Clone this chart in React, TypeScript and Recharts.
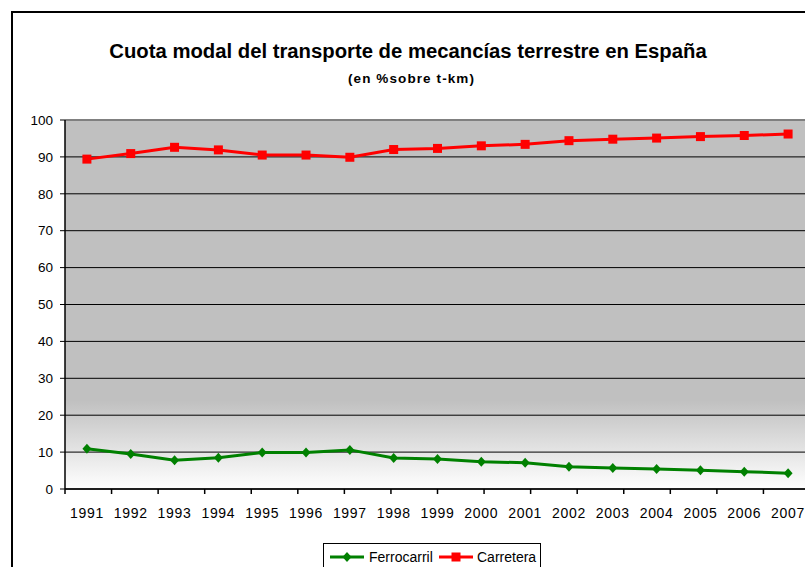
import { CartesianGrid, Line, LineChart, ReferenceLine, XAxis, YAxis } from "recharts";

const years = [
    "1991", "1992", "1993", "1994", "1995", "1996", "1997", "1998", "1999",
    "2000", "2001", "2002", "2003", "2004", "2005", "2006", "2007",
];
const ferrocarril = [10.9, 9.5, 7.8, 8.5, 9.9, 9.9, 10.6, 8.4, 8.1, 7.4, 7.1, 6.0, 5.7, 5.4, 5.1, 4.7, 4.3];
const carretera = [89.4, 90.9, 92.6, 91.9, 90.5, 90.5, 89.9, 92.0, 92.3, 93.0, 93.4, 94.4, 94.8, 95.1, 95.5, 95.8, 96.2];
const yTicks = [0, 10, 20, 30, 40, 50, 60, 70, 80, 90, 100];
const bandEdges = years.map((_, i) => i).concat(years.length);

const data = years.map((year, i) => ({
    year,
    ferrocarril: ferrocarril[i],
    carretera: carretera[i],
}));

const FONT = "Arial, 'Liberation Sans', sans-serif";
const GREEN = "#008000";
const RED = "#ff0000";

const Diamond = ({ cx, cy }: any) => {
    if (cx == null || cy == null) return null;
    return <polygon points={`${cx},${cy - 5} ${cx + 4.5},${cy} ${cx},${cy + 5} ${cx - 4.5},${cy}`} fill={GREEN} />;
};

const Square = ({ cx, cy }: any) => {
    if (cx == null || cy == null) return null;
    return <rect x={cx - 4.5} y={cy - 4.5} width={9} height={9} fill={RED} />;
};

const App = () => {
    return (
        <div style={{ position: "fixed", left: 0, top: 0, width: 805, height: 567, overflow: "hidden", background: "#fff", fontFamily: FONT }}>
            {/* outer chart frame */}
            <div style={{ position: "absolute", left: 11, top: 11, width: 830, height: 600, border: "2px solid #000", boxSizing: "border-box" }} />

            <div style={{ position: "absolute", left: 0, top: 39, width: 816, textAlign: "center", fontSize: 20.3, fontWeight: "bold", lineHeight: "24px", color: "#000" }}>
                Cuota modal del transporte de mecancías terrestre en España
            </div>
            <div style={{ position: "absolute", left: 0, top: 70, width: 823, textAlign: "center", fontSize: 13.5, fontWeight: "bold", lineHeight: "18px", letterSpacing: 1.1, color: "#000" }}>
                (en %sobre t-km)
            </div>

            <div style={{ position: "absolute", left: 0, top: 0 }}>
                <LineChart width={870} height={567} data={data} margin={{ top: 120, right: 60, bottom: 47, left: 25 }}>
                    <defs>
                        <linearGradient id="plotBg" x1="0" y1="0" x2="0" y2="1">
                            <stop offset="0%" stopColor="#c0c0c0" />
                            <stop offset="76%" stopColor="#c0c0c0" />
                            <stop offset="100%" stopColor="#ffffff" />
                        </linearGradient>
                    </defs>
                    <CartesianGrid vertical={false} stroke="#000" strokeWidth={1} fill="url(#plotBg)" fillOpacity={1} />
                    {/* tick marks between categories */}
                    <XAxis
                        xAxisId={0}
                        type="number"
                        domain={[0, years.length]}
                        ticks={bandEdges}
                        height={1}
                        tickFormatter={() => ""}
                        tickSize={5}
                        stroke="#000"
                        axisLine={{ stroke: "#000", strokeWidth: 1.5 }}
                        tickLine={{ stroke: "#000", strokeWidth: 1.5 }}
                        allowDataOverflow
                    />
                    <XAxis
                        xAxisId={1}
                        dataKey="year"
                        scale="band"
                        height={30}
                        axisLine={false}
                        tickLine={false}
                        tickSize={5}
                        tickMargin={13}
                        interval={0}
                        tick={{ fill: "#000", fontSize: 14, letterSpacing: 0.7, fontFamily: FONT }}
                    />
                    <YAxis
                        domain={[0, 100]}
                        ticks={yTicks}
                        width={40}
                        tickSize={5}
                        tickMargin={7}
                        interval={0}
                        axisLine={{ stroke: "#000", strokeWidth: 1.5 }}
                        tickLine={{ stroke: "#000" }}
                        tick={{ fill: "#000", fontSize: 13.5, fontFamily: FONT }}
                    />
                    <ReferenceLine xAxisId={1} y={100} stroke="#808080" strokeWidth={2} />
                    <Line
                        xAxisId={1}
                        dataKey="ferrocarril"
                        name="Ferrocarril"
                        stroke={GREEN}
                        strokeWidth={3}
                        dot={<Diamond />}
                        activeDot={false}
                        isAnimationActive={false}
                    />
                    <Line
                        xAxisId={1}
                        dataKey="carretera"
                        name="Carretera"
                        stroke={RED}
                        strokeWidth={3}
                        dot={<Square />}
                        activeDot={false}
                        isAnimationActive={false}
                    />
                </LineChart>
            </div>

            {/* legend */}
            <div style={{ position: "absolute", left: 323, top: 543, width: 218, height: 30, border: "1px solid #000", boxSizing: "border-box", background: "#fff" }}>
                <svg width={218} height={30} style={{ position: "absolute", left: 0, top: 0 }}>
                    <line x1={6} x2={40} y1={13} y2={13} stroke={GREEN} strokeWidth={3} />
                    <Diamond cx={23} cy={13} />
                    <text x={45} y={18} fontSize={14} fontFamily={FONT} fill="#000">Ferrocarril</text>
                    <line x1={115} x2={149} y1={13} y2={13} stroke={RED} strokeWidth={3} />
                    <Square cx={132} cy={13} />
                    <text x={153} y={18} fontSize={14} fontFamily={FONT} fill="#000">Carretera</text>
                </svg>
            </div>
        </div>
    );
};

export default App;
